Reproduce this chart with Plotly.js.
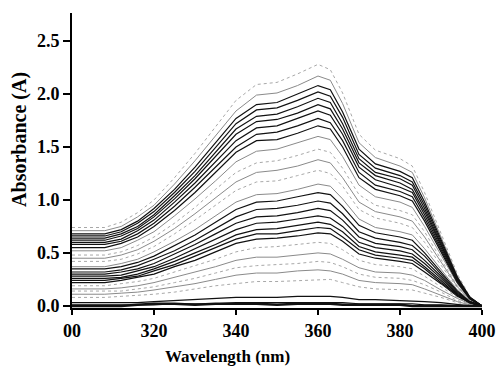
<!DOCTYPE html>
<html>
<head>
<meta charset="utf-8">
<script src="https://cdn.plot.ly/plotly-3.0.1.min.js"></script>
<style>
html,body{margin:0;padding:0;background:#fff;}
#chart{width:504px;height:377px;}
#chart svg text{font-family:"Liberation Serif","DejaVu Serif",serif !important;}
</style>
</head>
<body>
<div id="chart"></div>
<script>
// Wavelength grid (nm)
const wavelength = [300,308,312,316,320,325,330,335,340,345,350,355,360,363,366,370,374,380,383,386,390,394,397,400];

// Absorbance spectra (A), top to bottom
const spectra = [
  [0.74,0.74,0.79,0.88,1.00,1.21,1.44,1.69,1.94,2.09,2.11,2.19,2.28,2.23,2.01,1.62,1.47,1.39,1.32,1.07,0.68,0.30,0.09,0],
  [0.71,0.71,0.75,0.84,0.95,1.15,1.37,1.61,1.84,1.99,2.01,2.08,2.17,2.13,1.91,1.54,1.40,1.32,1.26,1.02,0.65,0.28,0.09,0],
  [0.68,0.68,0.72,0.80,0.92,1.10,1.31,1.54,1.77,1.90,1.92,2.00,2.08,2.04,1.83,1.48,1.34,1.27,1.21,0.98,0.62,0.27,0.08,0],
  [0.66,0.66,0.70,0.78,0.89,1.07,1.27,1.49,1.72,1.85,1.87,1.94,2.02,1.98,1.78,1.43,1.30,1.23,1.17,0.95,0.61,0.26,0.08,0],
  [0.64,0.64,0.68,0.75,0.86,1.04,1.23,1.45,1.67,1.79,1.81,1.88,1.96,1.92,1.72,1.39,1.26,1.20,1.14,0.92,0.59,0.25,0.08,0],
  [0.62,0.62,0.66,0.73,0.84,1.01,1.20,1.41,1.62,1.74,1.76,1.82,1.90,1.86,1.67,1.35,1.23,1.16,1.10,0.89,0.57,0.25,0.08,0],
  [0.60,0.60,0.63,0.71,0.81,0.98,1.16,1.36,1.56,1.68,1.70,1.77,1.84,1.80,1.62,1.31,1.19,1.12,1.07,0.86,0.55,0.24,0.07,0],
  [0.58,0.58,0.61,0.68,0.78,0.94,1.12,1.31,1.50,1.62,1.64,1.70,1.77,1.73,1.56,1.26,1.14,1.08,1.03,0.83,0.53,0.23,0.07,0],
  [0.55,0.55,0.59,0.65,0.75,0.90,1.07,1.26,1.45,1.56,1.57,1.63,1.70,1.67,1.50,1.21,1.10,1.04,0.99,0.80,0.51,0.22,0.07,0],
  [0.52,0.52,0.55,0.62,0.70,0.85,1.01,1.18,1.36,1.46,1.48,1.54,1.60,1.57,1.41,1.14,1.03,0.98,0.93,0.75,0.48,0.21,0.06,0],
  [0.48,0.48,0.51,0.57,0.65,0.78,0.93,1.10,1.26,1.35,1.37,1.42,1.48,1.45,1.30,1.05,0.95,0.90,0.86,0.70,0.44,0.19,0.06,0],
  [0.45,0.45,0.48,0.53,0.61,0.73,0.87,1.02,1.17,1.26,1.28,1.32,1.38,1.35,1.21,0.98,0.89,0.84,0.80,0.65,0.41,0.18,0.06,0],
  [0.42,0.42,0.44,0.49,0.56,0.68,0.81,0.95,1.09,1.17,1.18,1.23,1.28,1.25,1.13,0.91,0.83,0.78,0.74,0.60,0.38,0.17,0.05,0],
  [0.37,0.37,0.40,0.44,0.51,0.61,0.72,0.85,0.98,1.05,1.06,1.10,1.15,1.13,1.01,0.82,0.74,0.70,0.67,0.54,0.35,0.15,0.05,0],
  [0.35,0.35,0.37,0.41,0.47,0.57,0.67,0.79,0.91,0.98,0.99,1.03,1.07,1.05,0.94,0.76,0.69,0.65,0.62,0.50,0.32,0.14,0.04,0],
  [0.32,0.32,0.34,0.38,0.44,0.52,0.62,0.73,0.84,0.91,0.92,0.95,0.99,0.97,0.87,0.70,0.64,0.60,0.57,0.47,0.30,0.13,0.04,0],
  [0.30,0.30,0.32,0.35,0.40,0.49,0.58,0.68,0.78,0.84,0.85,0.88,0.92,0.90,0.81,0.65,0.59,0.56,0.53,0.43,0.28,0.12,0.04,0],
  [0.28,0.28,0.29,0.33,0.37,0.45,0.54,0.63,0.72,0.78,0.79,0.82,0.85,0.83,0.75,0.60,0.55,0.52,0.49,0.40,0.26,0.11,0.03,0],
  [0.26,0.26,0.27,0.30,0.35,0.42,0.50,0.58,0.67,0.72,0.73,0.76,0.79,0.77,0.70,0.56,0.51,0.48,0.46,0.37,0.24,0.10,0.03,0],
  [0.24,0.24,0.26,0.28,0.33,0.39,0.47,0.55,0.63,0.68,0.68,0.71,0.74,0.73,0.65,0.53,0.48,0.45,0.43,0.35,0.22,0.10,0.03,0],
  [0.22,0.22,0.24,0.27,0.30,0.37,0.43,0.51,0.59,0.63,0.64,0.66,0.69,0.68,0.61,0.49,0.45,0.42,0.40,0.32,0.21,0.09,0.03,0],
  [0.19,0.19,0.21,0.23,0.26,0.32,0.38,0.44,0.51,0.55,0.56,0.58,0.60,0.59,0.53,0.43,0.39,0.37,0.35,0.28,0.18,0.08,0.02,0],
  [0.16,0.16,0.17,0.19,0.22,0.27,0.32,0.37,0.43,0.46,0.46,0.48,0.50,0.49,0.44,0.36,0.32,0.31,0.29,0.24,0.15,0.07,0.02,0],
  [0.14,0.14,0.14,0.16,0.18,0.22,0.26,0.31,0.36,0.38,0.39,0.40,0.42,0.41,0.37,0.30,0.27,0.26,0.24,0.20,0.13,0.05,0.02,0],
  [0.11,0.11,0.12,0.13,0.15,0.18,0.21,0.25,0.29,0.31,0.31,0.33,0.34,0.33,0.30,0.24,0.22,0.21,0.20,0.16,0.10,0.04,0.01,0],
  [0.08,0.08,0.09,0.10,0.11,0.13,0.16,0.19,0.21,0.23,0.23,0.24,0.25,0.25,0.22,0.18,0.16,0.15,0.15,0.12,0.08,0.03,0.01,0],
  [0.03,0.03,0.03,0.03,0.04,0.05,0.06,0.07,0.08,0.08,0.08,0.09,0.09,0.09,0.08,0.06,0.06,0.05,0.05,0.04,0.03,0.01,0.00,0],
  [0.01,0.01,0.01,0.01,0.01,0.02,0.02,0.02,0.03,0.03,0.03,0.03,0.03,0.03,0.03,0.02,0.02,0.02,0.02,0.01,0.01,0.00,0.00,0],
  [0.00,0.00,0.00,0.01,0.02,0.02,0.01,0.02,0.02,0.02,0.01,0.02,0.02,0.02,0.01,0.01,0.01,0.01,0.00,0.00,0.00,0.00,0.00,0]
];

// line style of each spectrum: 'k' black solid, 'g' grey solid, 'd' light grey dotted
const lineKinds = ['d','g','k','k','k','k','k','k','k','g','d','g','d','g','k','k','k','k','k','k','k','d','g','d','g','d','k','k','k'];

const xTickVals = [300,320,340,360,380,400];
const xTickText = ['00','320','340','360','380','400'];
const yTickVals = [0,0.5,1.0,1.5,2.0,2.5];
const yTickText = ['0.0','0.5','1.0','1.5','2.0','2.5'];

const styleOf = {
  k: {color:'#111111', width:1.2, dash:'solid'},
  g: {color:'#8a8a8a', width:1.0, dash:'solid'},
  d: {color:'#a8a8a8', width:1.0, dash:'dot'}
};

const order = [];
spectra.forEach((s,i)=>{ if(lineKinds[i]!=='k') order.push(i); });
spectra.forEach((s,i)=>{ if(lineKinds[i]==='k') order.push(i); });

const traces = order.map(i => ({
  x: wavelength,
  y: spectra[i],
  type: 'scatter',
  mode: 'lines',
  line: Object.assign({}, styleOf[lineKinds[i]], {width: i===spectra.length-1 ? 2.5 : styleOf[lineKinds[i]].width}),
  hoverinfo: 'skip',
  showlegend: false
}));

const fontFam = 'Liberation Serif';

const layout = {
  width: 504, height: 377,
  margin: {l:72, r:22, t:13, b:69},
  paper_bgcolor:'#ffffff', plot_bgcolor:'#ffffff',
  showlegend:false,
  font:{family:fontFam, color:'#000'},
  xaxis: {
    range:[300,400], tickvals:xTickVals, ticktext:xTickText,
    showgrid:false, zeroline:false, showline:true, linecolor:'#000', linewidth:2,
    ticks:'outside', ticklen:5, tickwidth:1.5, tickcolor:'#000',
    tickfont:{family:fontFam, size:18, color:'#000', weight:'bold'}
  },
  yaxis: {
    range:[-0.02,2.765], tickvals:yTickVals, ticktext:yTickText,
    showgrid:false, zeroline:false, showline:true, linecolor:'#000', linewidth:2,
    ticks:'outside', ticklen:7, tickwidth:1.5, tickcolor:'#000',
    tickfont:{family:fontFam, size:18, color:'#000', weight:'bold'}
  },
  annotations: [
    {text:'Wavelength (nm)', xref:'paper', yref:'paper', x:0.38, y:-0.166,
     xanchor:'center', yanchor:'middle', showarrow:false,
     font:{family:fontFam, size:17, color:'#000', weight:'bold'}},
    {text:'Absorbance (A)', xref:'paper', yref:'paper', x:-0.127, y:0.573,
     xanchor:'center', yanchor:'middle', showarrow:false, textangle:-90,
     font:{family:fontFam, size:20, color:'#000', weight:'bold'}}
  ]
};

Plotly.newPlot('chart', traces, layout, {staticPlot:true, displayModeBar:false});
</script>
</body>
</html>
